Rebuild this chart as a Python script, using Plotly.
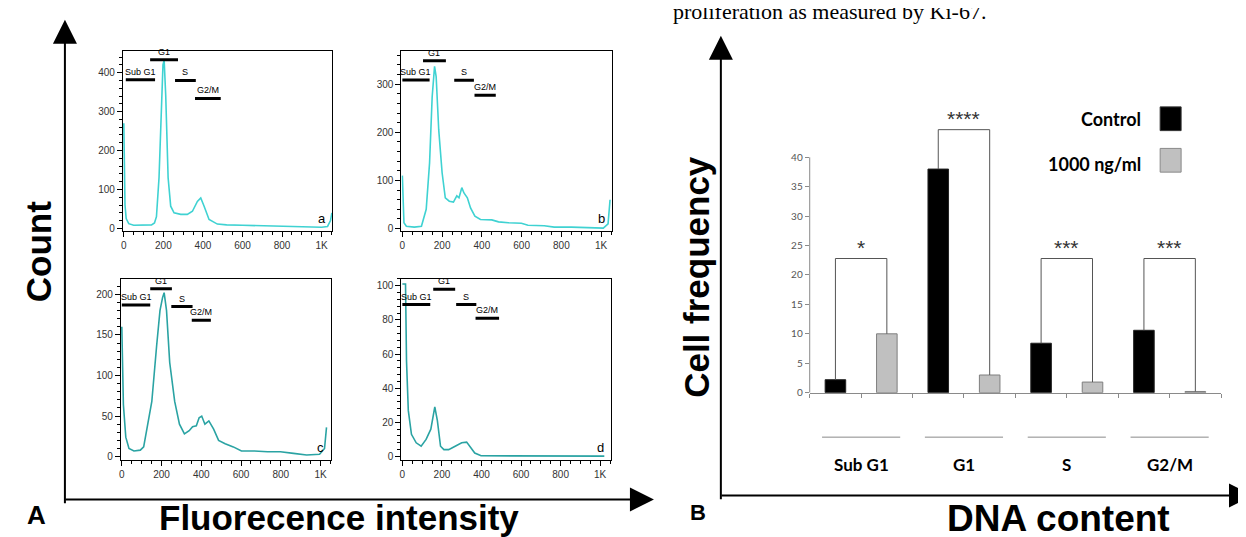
import plotly.graph_objects as go

# ---------------- data: panel A, DNA histograms (channel vs count)
a_x = [0, 3, 6, 12, 25, 50, 100, 140, 155, 165, 178, 190, 198, 204, 208, 212, 224, 237, 254, 288,
       321, 347, 372, 389, 406, 431, 473, 520, 600, 720, 800, 900, 1000, 1030, 1045, 1052]
a_y = [270, 120, 60, 25, 12, 8, 8, 9, 14, 30, 130, 340, 420, 432, 400, 340, 130, 57, 40, 36,
       36, 44, 69, 78, 57, 23, 11, 9, 8, 7, 6, 4, 3, 5, 20, 40]

b_x = [0, 3, 8, 20, 60, 96, 120, 137, 150, 162, 170, 183, 200, 216, 236, 257, 274, 285, 299, 310,
       327, 343, 365, 393, 450, 484, 533, 599, 632, 714, 764, 850, 929, 1011, 1035, 1045]
b_y = [110, 40, 12, 5, 3, 5, 40, 137, 274, 337, 316, 205, 116, 64, 57, 55, 68, 64, 85, 74,
       64, 43, 26, 19, 18, 14, 12, 11, 7, 6, 3, 3, 2, 1, 10, 60]

c_x = [0, 8, 20, 36, 61, 93, 110, 126, 151, 175, 192, 205, 213, 225, 241, 266, 290, 315, 339, 356,
       375, 389, 402, 418, 438, 462, 487, 520, 561, 602, 667, 733, 798, 864, 930, 995, 1020, 1030]
c_y = [160, 64, 24, 10, 7, 8, 12, 36, 68, 136, 180, 196, 202, 180, 116, 68, 40, 28, 32, 37,
       38, 48, 50, 40, 44, 34, 20, 16, 12, 7, 7, 6, 6, 4, 2, 3, 10, 36]

d_x = [0, 16, 21, 30, 46, 70, 95, 120, 144, 164, 177, 193, 210, 234, 267, 300, 325, 341, 366, 398,
       464, 530, 562, 600, 759, 1021]
d_y = [101, 101, 56, 27, 13, 8, 6, 10, 16, 29, 21, 6, 4, 4, 6, 8, 8.4, 6, 2, 0.4,
       0.4, 0.3, 0.6, 0.2, 0.2, 0.2]

gates = ["Sub G1", "G1", "S", "G2/M"]
a_gate_lo = [10, 133, 259, 360]
a_gate_hi = [158, 274, 364, 490]
a_gate_y = [382, 433, 380, 334]
b_gate_lo = [0, 104, 261, 363]
b_gate_hi = [137, 219, 360, 470]
b_gate_y = [309, 349, 308, 277]
c_gate_lo = [0, 143, 249, 352]
c_gate_hi = [143, 252, 356, 448]
c_gate_y = [187, 207, 185, 168]
d_gate_lo = [0, 156, 272, 370]
d_gate_hi = [141, 267, 374, 489]
d_gate_y = [89, 98, 89, 81]

x_ticks = [0, 200, 400, 600, 800, 1000]
x_tick_text = ["0", "200", "400", "600", "800", "1K"]

# ---------------- data: panel B, cell cycle distribution
phases = ["Sub G1", "G1", "S", "G2/M"]
control = [2.2, 38.0, 8.4, 10.6]
treated = [10.0, 3.0, 1.8, 0.2]
stars = ["*", "****", "***", "***"]
bracket_top = [22.8, 44.7, 22.8, 22.8]

W, H = 1246, 537


def px(x):
    return x / W


def py(y):
    return 1 - y / H


fig = go.Figure()

# histogram panels: (axis suffix, x, y, colour, box px, y range, dtick, gates, letter)
panels = [
    ("", a_x, a_y, "#3fd2d2", (113, 323, 43, 226), [-8, 457], 100,
     (a_gate_lo, a_gate_hi, a_gate_y), "a"),
    ("2", b_x, b_y, "#3fd2d2", (392, 603, 43, 226), [-6, 370], 100,
     (b_gate_lo, b_gate_hi, b_gate_y), "b"),
    ("3", c_x, c_y, "#2aa3a3", (111, 322, 274, 457), [-4, 219], 50,
     (c_gate_lo, c_gate_hi, c_gate_y), "c"),
    ("4", d_x, d_y, "#2aa3a3", (392, 602, 274, 457), [-2, 104], 20,
     (d_gate_lo, d_gate_hi, d_gate_y), "d"),
]

tick_font = dict(family="Liberation Sans", size=10, color="#333333")
layout_axes = {}
for n, xs, ys, col, box, yr, dt, gate, letter in panels:
    xa, ya = "x" + n, "y" + n
    fig.add_trace(go.Scatter(x=xs, y=ys, mode="lines", line=dict(color=col, width=1.6),
                             xaxis=xa, yaxis=ya, showlegend=False, hoverinfo="skip"))
    x0, x1, y0, y1 = box
    layout_axes["xaxis" + n] = dict(
        domain=[px(x0), px(x1)], anchor=ya, range=[-5, 1055],
        tickmode="array", tickvals=x_ticks, ticktext=x_tick_text,
        ticks="outside", ticklen=5, tickcolor="black", tickfont=tick_font,
        minor=dict(tickmode="linear", tick0=0, dtick=50, ticks="outside", ticklen=3, tickcolor="black"),
        showline=True, linecolor="black", linewidth=1, mirror=True,
        showgrid=False, zeroline=False)
    layout_axes["yaxis" + n] = dict(
        domain=[py(y1), py(y0)], anchor=xa, range=yr,
        tickmode="linear", tick0=0, dtick=dt,
        ticks="outside", ticklen=5, tickcolor="black", tickfont=tick_font,
        minor=dict(tickmode="linear", tick0=0, dtick=dt / 5, ticks="outside", ticklen=3, tickcolor="black"),
        showline=True, linecolor="black", linewidth=1, mirror=True,
        showgrid=False, zeroline=False)
    lo, hi, gy = gate
    for name, l, h, yy in zip(gates, lo, hi, gy):
        fig.add_shape(type="line", xref=xa, yref=ya, x0=l, x1=h, y0=yy, y1=yy,
                      line=dict(color="black", width=3))
        fig.add_annotation(x=(l + h) / 2, y=yy, xref=xa, yref=ya, text=name, showarrow=False,
                           xanchor="center", yanchor="bottom", yshift=1,
                           font=dict(family="Liberation Sans", size=9, color="black"))
    fig.add_annotation(x=0.95, y=0.07, xref=xa + " domain", yref=ya + " domain", text=letter,
                       showarrow=False, font=dict(family="Liberation Sans", size=13, color="black"),
                       xanchor="center", yanchor="middle")

# ---------------- bar chart (panel B)
idx = list(range(len(phases)))
fig.add_trace(go.Bar(x=idx, y=control, name="Control",
                     marker=dict(color="black", line=dict(color="#222", width=1)),
                     xaxis="x5", yaxis="y5", showlegend=False))
fig.add_trace(go.Bar(x=idx, y=treated, name="1000 ng/ml",
                     marker=dict(color="#c0c0c0", line=dict(color="#7f7f7f", width=1)),
                     xaxis="x5", yaxis="y5", showlegend=False))

for i, (c, t, top, s) in enumerate(zip(control, treated, bracket_top, stars)):
    fig.add_trace(go.Scatter(x=[i - 0.25, i - 0.25, i + 0.25, i + 0.25], y=[c, top, top, t],
                             mode="lines", line=dict(color="#555555", width=1),
                             xaxis="x5", yaxis="y5", showlegend=False, hoverinfo="skip"))
    fig.add_annotation(x=i, y=top, xref="x5", yref="y5", text=s, showarrow=False,
                       xanchor="center", yanchor="bottom", yshift=-2,
                       font=dict(family="Liberation Sans", size=21, color="#333333"))
    fig.add_shape(type="line", xref="x5", yref="paper", x0=i - 0.38, x1=i + 0.38,
                  y0=py(434), y1=py(434), line=dict(color="#8a8a8a", width=1))
    fig.add_annotation(x=i, y=py(462), xref="x5", yref="paper", text="<b>%s</b>" % phases[i],
                       showarrow=False, xanchor="center", yanchor="middle",
                       font=dict(family="Lato", size=17, color="black"))

layout_axes["xaxis5"] = dict(domain=[px(801), px(1213)], anchor="y5", range=[-0.5, len(phases) - 0.5],
                             tickmode="linear", tick0=-0.5, dtick=0.5, ticks="outside", ticklen=4,
                             tickcolor="#8a8a8a", showticklabels=False, showline=True,
                             linecolor="#8a8a8a", linewidth=1, showgrid=False, zeroline=False)
layout_axes["yaxis5"] = dict(domain=[py(389), py(91.5)], anchor="x5", range=[0, 50],
                             tickmode="array", tickvals=[0, 5, 10, 15, 20, 25, 30, 35, 40],
                             ticks="outside", ticklen=4, tickcolor="#8a8a8a",
                             tickfont=dict(family="Lato", size=10, color="#555555"),
                             showline=False, showgrid=False, zeroline=False)
# y axis line that stops at 40
fig.add_shape(type="line", xref="x5 domain", yref="y5", x0=0, x1=0, y0=0, y1=40,
              line=dict(color="#8a8a8a", width=1))

# legend drawn by hand (text left of the swatch)
legend_font = dict(family="Lato", size=18, color="black")
fig.add_annotation(x=px(1135), y=py(112), xref="paper", yref="paper", text="<b>Control</b>",
                   showarrow=False, xanchor="right", yanchor="middle", font=legend_font)
fig.add_annotation(x=px(1135), y=py(158), xref="paper", yref="paper", text="<b>1000 ng/ml</b>",
                   showarrow=False, xanchor="right", yanchor="middle", font=legend_font)
fig.add_shape(type="rect", xref="paper", yref="paper", x0=px(1152), x1=px(1173), y0=py(124), y1=py(100),
              fillcolor="black", line=dict(color="#333", width=1))
fig.add_shape(type="rect", xref="paper", yref="paper", x0=px(1152), x1=px(1173), y0=py(166), y1=py(142),
              fillcolor="#c0c0c0", line=dict(color="#8a8a8a", width=1))

# ---------------- big frame arrows and titles
arrow = dict(xref="paper", yref="paper", text="", showarrow=True, arrowhead=2, arrowsize=2.4,
             arrowwidth=2, arrowcolor="black", standoff=0, startstandoff=0)
fig.add_annotation(x=px(55), y=py(12), ax=0, ay=485, **arrow)
fig.add_annotation(x=px(645), y=py(497), ax=-590, ay=0, **arrow)
fig.add_annotation(x=px(712), y=py(28), ax=0, ay=465, **arrow)
fig.add_annotation(x=px(1245), y=py(493), ax=-533, ay=0, **arrow)

big = dict(family="Liberation Sans", size=35, color="black")
center = dict(xref="paper", yref="paper", showarrow=False, xanchor="center", yanchor="middle")
fig.add_annotation(x=px(28), y=py(246), text="<b>Count</b>", textangle=-90, font=big, **center)
fig.add_annotation(x=px(330), y=py(515), text="<b>Fluorecence intensity</b>", font=big, **center)
fig.add_annotation(x=px(688), y=py(272), text="<b>Cell frequency</b>", textangle=-90, font=big, **center)
fig.add_annotation(x=px(1050), y=py(516), text="<b>DNA content</b>",
                   font=dict(family="Liberation Sans", size=37, color="black"), **center)
fig.add_annotation(x=px(27), y=py(513), text="<b>A</b>",
                   font=dict(family="Liberation Sans", size=26, color="black"), **center)
fig.add_annotation(x=px(689), y=py(510), text="<b>B</b>",
                   font=dict(family="Liberation Sans", size=22, color="black"), **center)
fig.add_annotation(x=px(662), y=py(4), xref="paper", yref="paper", text="proliferation as measured by Ki-67.",
                   showarrow=False, xanchor="left", yanchor="middle",
                   font=dict(family="Liberation Serif", size=22, color="black"))

fig.update_layout(width=W, height=H, margin=dict(l=0, r=0, t=0, b=0),
                  paper_bgcolor="white", plot_bgcolor="white",
                  barmode="group", bargap=0, bargroupgap=0.6, **layout_axes)

fig.write_html("out.html")
